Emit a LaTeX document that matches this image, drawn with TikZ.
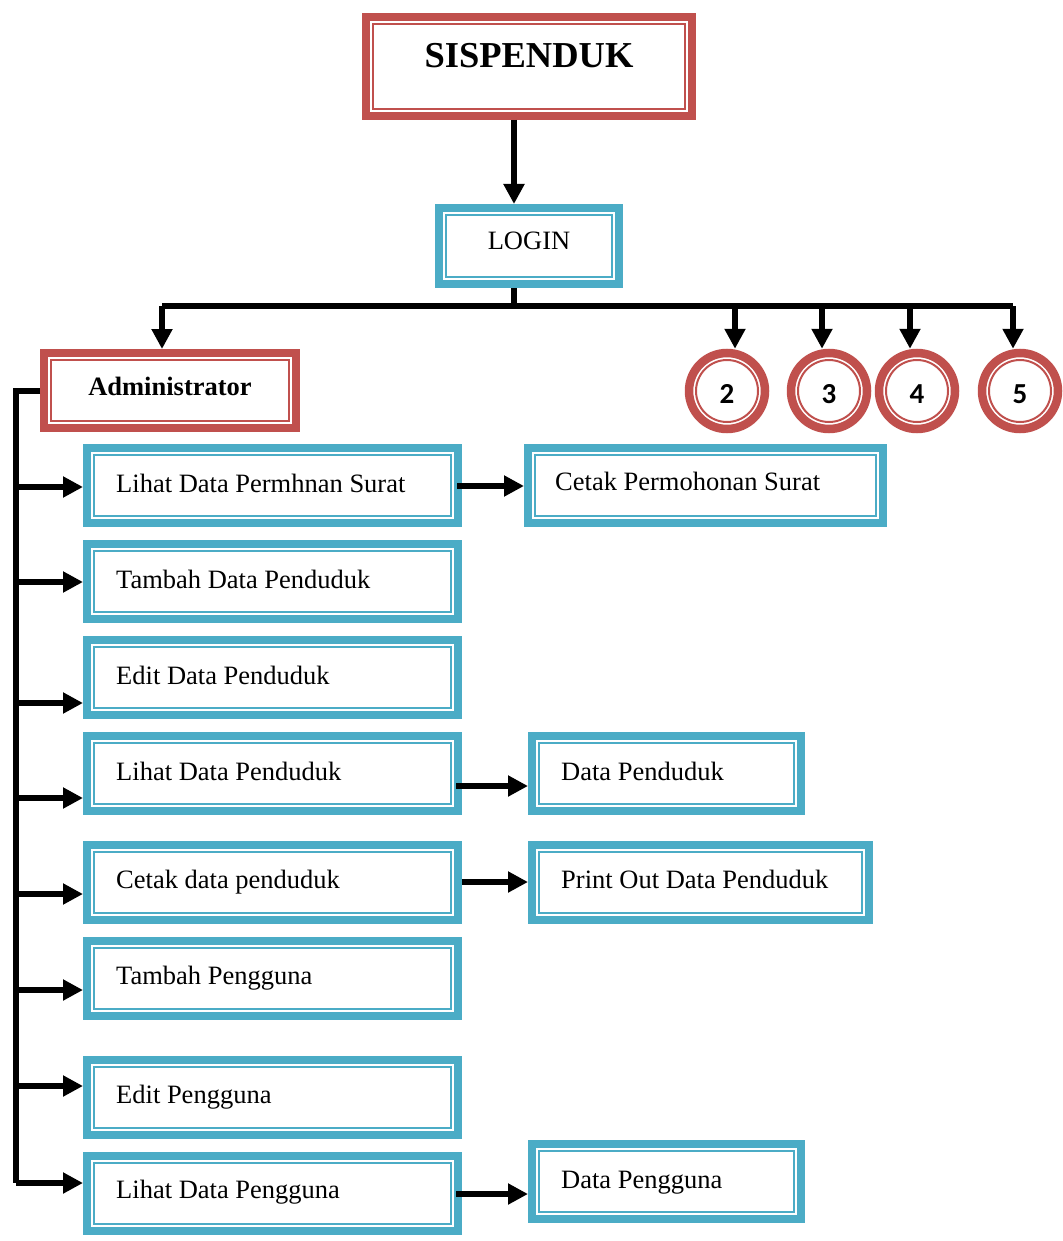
\documentclass[tikz,border=0pt]{standalone}
\usepackage{fontspec}
\setmainfont{Liberation Serif}
\newfontfamily\numfont{Carlito}
\usetikzlibrary{arrows.meta,calc}
\definecolor{frameRed}{HTML}{C0504D}
\definecolor{frameBlue}{HTML}{4BACC6}

% framed box: name, colour, x1, y1, x2, y2, text style, text position, text
\newcommand\tbox[9]{%
  \node[frame=#2, minimum width={(#5-#3-8)*1pt}, minimum height={(#6-#4-8)*1pt}] (#1) at (#3,#4) {};
  \draw[#2, line width=2pt] ($(#1.north west)+(11,11)$) rectangle ($(#1.south east)+(-11,-11)$);
  \node[#7] (#1-t) at (#8) {#9};
}

\begin{document}
\begin{tikzpicture}[x=1pt,y=-1pt,
  frame/.style={draw=#1, fill=white, line width=8pt, rectangle, inner sep=0pt, anchor=north west},
  ring/.style={draw=frameRed, fill=white, line width=8.5pt, circle, minimum size=76pt, inner sep=0pt},
  digit/.style={font=\numfont\bfseries\fontsize{29}{29}\selectfont, inner sep=0pt},
  plain text/.style={font=\fontsize{26.5}{30}\selectfont, inner sep=0pt, anchor=base west},
  centre text/.style={font=\fontsize{26.5}{30}\selectfont, inner sep=0pt, anchor=base},
  bold text/.style={font=\bfseries\fontsize{26.5}{30}\selectfont, inner sep=0pt, anchor=base},
  title text/.style={font=\bfseries\fontsize{36.5}{40}\selectfont, inner sep=0pt, anchor=base},
  link/.style={line width=6pt, line join=miter},
  arr/.style={link, -{Triangle[length=20pt,width=20pt]}},
]
\useasboundingbox (0,0) rectangle (1062,1241);

% top of the hierarchy
\tbox{sis}{frameRed}{362}{13}{696}{120}{title text}{529,68}{SISPENDUK}
\tbox{login}{frameBlue}{435}{204}{623}{288}{centre text}{529,250}{LOGIN}
\tbox{admin}{frameRed}{40}{349}{300}{432}{bold text}{170,395}{Administrator}

% administrator menu
\tbox{b1}{frameBlue}{83}{444}{462}{527}{plain text}{116,492}{Lihat Data Permhnan Surat}
\tbox{b2}{frameBlue}{83}{540}{462}{623}{plain text}{116,588}{Tambah Data Penduduk}
\tbox{b3}{frameBlue}{83}{636}{462}{719}{plain text}{116,684}{Edit Data Penduduk}
\tbox{b4}{frameBlue}{83}{732}{462}{815}{plain text}{116,780}{Lihat Data Penduduk}
\tbox{b5}{frameBlue}{83}{841}{462}{924}{plain text}{116,888}{Cetak data penduduk}
\tbox{b6}{frameBlue}{83}{937}{462}{1020}{plain text}{116,984}{Tambah Pengguna}
\tbox{b7}{frameBlue}{83}{1056}{462}{1139}{plain text}{116,1103}{Edit Pengguna}
\tbox{b8}{frameBlue}{83}{1152}{462}{1235}{plain text}{116,1198}{Lihat Data Pengguna}

% outputs
\tbox{r1}{frameBlue}{524}{444}{887}{527}{plain text}{555,490}{Cetak Permohonan Surat}
\tbox{r4}{frameBlue}{528}{732}{805}{815}{plain text}{561,780}{Data Penduduk}
\tbox{r5}{frameBlue}{528}{841}{873}{924}{plain text}{561,888}{Print Out Data Penduduk}
\tbox{r8}{frameBlue}{528}{1140}{805}{1223}{plain text}{561,1188}{Data Pengguna}

% other user levels
\foreach \n/\x in {2/727, 3/829, 4/917, 5/1020}{
  \node[ring] (c\n) at (\x,391) {};
  \draw[frameRed, line width=2pt] (c\n.center) circle[radius=31];
  \node[digit] (c\n-t) at (\x,394) {\n};
}

% title -> login -> bus
\draw[arr] ([xshift=-15pt]sis.south) -- ([xshift=-15pt]login.north);
\coordinate (busL) at (162,306);
\coordinate (busR) at (1013,306);
\draw[link] ([xshift=-15pt]login.south) -- ([xshift=-15pt]login.south |- busL);
\draw[link] (busL) -- (busR);
\draw[arr] (busL) -- (busL |- admin.north);
\foreach \n/\x in {2/735, 3/822, 4/910, 5/1013}{
  \coordinate (t\n) at (\x,306);
  \draw[arr] (t\n) -- (t\n |- c\n.north);
}

% administrator spine
\foreach \i/\y in {1/487, 2/582, 3/703, 4/798, 5/894, 6/990, 7/1086, 8/1183}{
  \coordinate (s\i) at (16,\y);
  \draw[arr] (s\i) -- (s\i -| b\i.west);
}
\draw[link] (admin.west) -| (s8);

% menu -> outputs
\coordinate (a1) at (457,486);
\coordinate (a4) at (456,786);
\coordinate (a5) at (462,882);
\coordinate (a8) at (456,1194);
\draw[arr] (a1) -- (a1 -| r1.west);
\draw[arr] (a4) -- (a4 -| r4.west);
\draw[arr] (a5) -- (a5 -| r5.west);
\draw[arr] (a8) -- (a8 -| r8.west);
\end{tikzpicture}
\end{document}
